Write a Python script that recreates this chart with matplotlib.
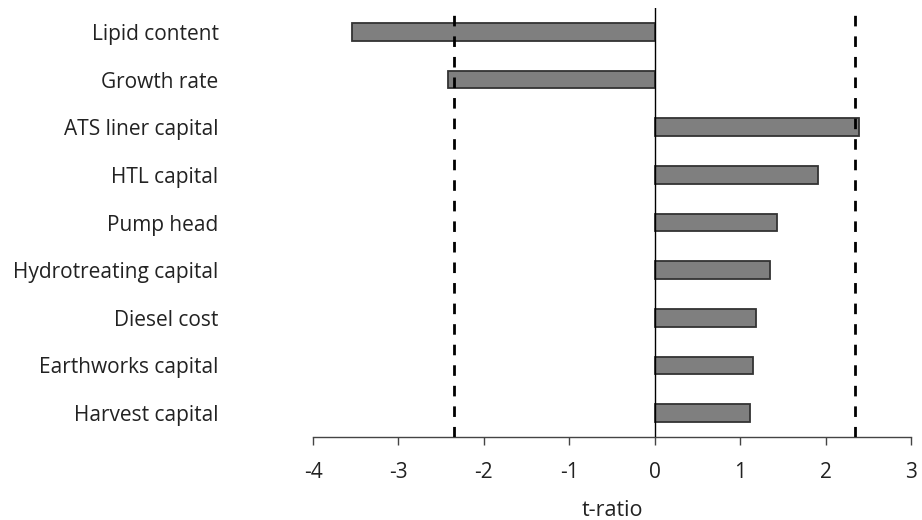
import matplotlib.pyplot as plt

# Data (top to bottom)
factors = ["Lipid content", "Growth rate", "ATS liner capital", "HTL capital",
           "Pump head", "Hydrotreating capital", "Diesel cost",
           "Earthworks capital", "Harvest capital"]
t_ratio = [-3.54, -2.42, 2.39, 1.91, 1.435, 1.345, 1.18, 1.15, 1.12]
critical_t = 2.35
xticks = [-4, -3, -2, -1, 0, 1, 2, 3]

plt.rcParams["font.family"] = ["Open Sans", "DejaVu Sans"]

fig = plt.figure(figsize=(9.22, 5.2), dpi=100)
ax = fig.add_axes([313 / 922, 1 - 437 / 520, 598 / 922, 429 / 520])

# plot from the top down
y = list(range(len(factors)))[::-1]
ax.barh(y, t_ratio, height=0.37, color="#7f7f7f", edgecolor="#333333",
        linewidth=1.3, zorder=2)

ax.axvline(0, color="black", linewidth=1, zorder=3)
for v in (-critical_t, critical_t):
    ax.axvline(v, color="black", linewidth=2, dashes=(3.8, 3.6), zorder=4)

ax.set_xlim(-4, 3)
ax.set_ylim(-0.5, len(factors) - 0.5)
ax.set_xticks(xticks)
ax.set_xticklabels([str(t) for t in xticks], fontsize=15, color="#222222")
ax.set_yticks(y)
ax.set_yticklabels(factors, fontsize=15, color="#222222")
ax.tick_params(axis="y", length=0, pad=68)
ax.tick_params(axis="x", direction="out", length=6, width=1, color="#444444", pad=12)

for side in ("left", "right", "top"):
    ax.spines[side].set_visible(False)
ax.spines["bottom"].set_linewidth(1)
ax.spines["bottom"].set_color("#444444")

ax.set_xlabel("t-ratio", fontsize=15.5, color="#222222", labelpad=12)

fig.savefig("out.png", dpi=100)
